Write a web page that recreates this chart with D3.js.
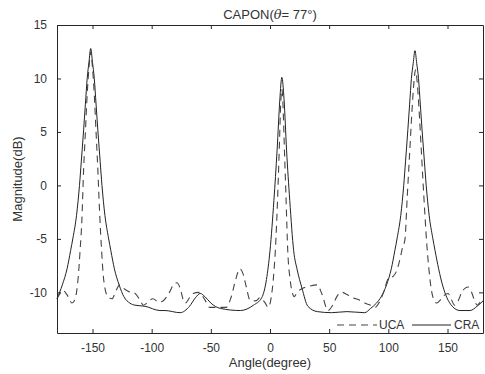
<!DOCTYPE html>
<html><head><meta charset="utf-8">
<script src="https://cdn.jsdelivr.net/npm/d3@7"></script>
<style>body{margin:0;background:#fff}svg{display:block}text{font-family:"Liberation Sans",Arial,sans-serif;fill:#333}</style>
</head><body><svg id="c" width="485" height="374"></svg>
<script>
const xTicks = [-150,-100,-50,0,50,100,150];
const yTicks = [-10,-5,0,5,10,15];
const ucaAngles = [-180,-178,-175,-173,-170,-167.5,-165.5,-163.5,-162,-160.5,-159,-157.5,-156,-154.5,-153,-151.5,-150,-148.5,-147,-145.5,-144,-142.3,-141,-139.5,-137,-133.5,-130,-127,-124,-120,-114,-110,-107,-104,-99,-94,-90.5,-85,-81,-78.6,-76,-73,-71.5,-68,-65,-60,-55,-51,-45,-37,-33,-29,-25.5,-23,-20,-17,-12,-8.5,-4,-1.5,1,3,4.5,6.5,8,9,10,11,12,13.5,15,17,19,20.5,23,28,34,40,44,49,53,57,61,65,70,75,80,85,88.7,92,96,100,104,107,110,112,114,116,118,120,121.5,123,124.5,126,128,130,132.5,134,136,138.5,141,144,147,150.5,153,156,159,162,165,167.5,170,173,175,177,180];
const ucaValues = [-10.6,-10.2,-9.8,-10.0,-10.5,-11.0,-10.8,-10.0,-8.5,-6.1,-3.3,1.5,5,8.5,11,12.5,11,8.5,5,1.5,-2.5,-6.1,-8.3,-9.6,-10.4,-10.6,-9.8,-9.3,-9.6,-9.9,-10.1,-10.7,-11.2,-11.0,-10.6,-10.9,-10.8,-10.0,-9.2,-9.1,-9.6,-10.8,-11.0,-10.5,-10.1,-10.0,-10.7,-11.4,-11.4,-11.4,-10.5,-8.8,-7.8,-8.2,-9.5,-10.7,-10.8,-10.5,-11.0,-11.4,-10.5,-8.5,-6.1,-1,4,7.5,9.0,7.5,4,-1,-6.1,-8.8,-10.1,-10.4,-10.0,-9.6,-9.4,-9.3,-10.2,-11.7,-11.2,-10.3,-10.0,-10.2,-10.5,-10.7,-11.0,-11.2,-11.4,-11.0,-10.0,-8.7,-8.5,-8.0,-6.8,-5.8,-5.1,-1,3,7,9.5,10.8,9.5,7,3,-1,-5.5,-7.5,-9.5,-10.7,-11.0,-10.7,-10.3,-10.1,-10.6,-11.2,-10.8,-10.0,-9.6,-9.5,-9.9,-10.8,-11.2,-11.0,-10.5];
const craAngles = [-180,-175.5,-171.5,-168.5,-166.5,-163.5,-161,-159.5,-157.5,-156,-154.5,-153,-151.5,-150,-148.5,-147,-145.5,-143.5,-142,-139.5,-136.5,-134.5,-131.5,-127.5,-123.5,-118.5,-114,-105.6,-93,-88.7,-76,-68,-63,-59,-55,-50,-42,-25,-14,-7,-3,0,3.3,6,8.3,10,11.9,14,16.7,20,23,27,32,40,52,65,80,85,90,94,98.5,102.5,105.5,107.5,110.5,113,114.5,116.5,118,119.5,121,122.5,124,125.5,127,128.5,130.5,132,134.5,137.5,139.5,142.5,146,149.5,154,160.5,169,175,180];
const craValues = [-10.6,-9.3,-7.8,-6.1,-4.9,-2.8,0,2.2,5.2,7.6,10,11.5,12.8,11.5,10,7.6,5.2,2.2,0,-2.8,-4.9,-6.1,-7.8,-9.3,-10.4,-11.0,-11.2,-11.3,-11.7,-11.7,-11.9,-11.3,-10.5,-10.1,-10.4,-11.0,-11.5,-11.7,-11.2,-10.5,-8.8,-6.1,-1.4,3.3,8,10.1,8,3.3,-1.4,-6.1,-7.9,-9.6,-11.3,-11.8,-11.9,-11.8,-11.9,-11.5,-11.0,-10.4,-9.3,-7.8,-6.1,-4.9,-2.8,0,2.2,5.2,7.6,10,11.4,12.6,11.4,10,7.6,5.2,2.2,0,-2.8,-4.9,-6.1,-7.8,-9.4,-10.5,-11.3,-11.7,-11.7,-11.3,-10.8];
const seriesNames = ["UCA","CRA"];

const svg = d3.select("#c");
const L=57,R=483,T=25,B=333;
const x = d3.scaleLinear().domain([-180,180]).range([L,R]);
const y = d3.scaleLinear().domain([-13.8,15]).range([B,T]);
const ax = "#262626";
svg.append("rect").attr("x",L).attr("y",T).attr("width",R-L).attr("height",B-T).attr("fill","#fff");

const line = d3.line().x(d=>x(d[0])).y(d=>y(d[1])).curve(d3.curveMonotoneX);
const uca = ucaAngles.map((a,i)=>[a,ucaValues[i]]);
const cra = craAngles.map((a,i)=>[a,craValues[i]]);
const g = svg.append("g");
g.append("path").attr("d",line(cra)).attr("fill","none").attr("stroke","#222").attr("stroke-width",1);
g.append("path").attr("d",line(uca)).attr("fill","none").attr("stroke","#444").attr("stroke-width",1.1).attr("stroke-dasharray","7,5");

const fmt = d=>String(d);
const gx = svg.append("g").attr("transform",`translate(0,${B})`).call(d3.axisBottom(x).tickValues(xTicks).tickFormat(fmt).tickSizeInner(-4).tickSizeOuter(0).tickPadding(10));
const gxt = svg.append("g").attr("transform",`translate(0,${T})`).call(d3.axisTop(x).tickValues(xTicks).tickSizeInner(-4).tickSizeOuter(0).tickFormat(""));
const gy = svg.append("g").attr("transform",`translate(${L},0)`).call(d3.axisLeft(y).tickValues(yTicks).tickFormat(fmt).tickSizeInner(-4).tickSizeOuter(0).tickPadding(10));
const gyr = svg.append("g").attr("transform",`translate(${R},0)`).call(d3.axisRight(y).tickValues(yTicks).tickSizeInner(-4).tickSizeOuter(0).tickFormat(""));
[gx,gxt,gy,gyr].forEach(s=>{s.select(".domain").attr("stroke",ax);s.selectAll(".tick line").attr("stroke",ax);s.selectAll("text").attr("fill","#333").style("font-size","12px").attr("font-family","Liberation Sans, Arial, sans-serif");});

svg.append("text").attr("x",(L+R)/2).attr("y",367).attr("text-anchor","middle").style("font-size","13px").text("Angle(degree)");
svg.append("text").attr("transform",`translate(22,${(T+B)/2}) rotate(-90)`).attr("text-anchor","middle").style("font-size","13px").text("Magnitude(dB)");
const title = svg.append("text").attr("x",(L+R)/2).attr("y",19).attr("text-anchor","middle").style("font-size","13px");
title.append("tspan").text("CAPON(");
title.append("tspan").attr("font-style","italic").attr("font-family","DejaVu Serif, serif").text("θ");
title.append("tspan").text("= 77°)");

const ly = 325;
svg.append("line").attr("x1",337).attr("x2",377).attr("y1",ly).attr("y2",ly).attr("stroke","#444").attr("stroke-width",1.1).attr("stroke-dasharray","7,5");
svg.append("text").attr("x",379).attr("y",ly+4).style("font-size","12px").text(seriesNames[0]);
svg.append("line").attr("x1",412).attr("x2",451).attr("y1",ly).attr("y2",ly).attr("stroke","#222").attr("stroke-width",1);
svg.append("text").attr("x",454).attr("y",ly+4).style("font-size","12px").text(seriesNames[1]);
</script></body></html>
